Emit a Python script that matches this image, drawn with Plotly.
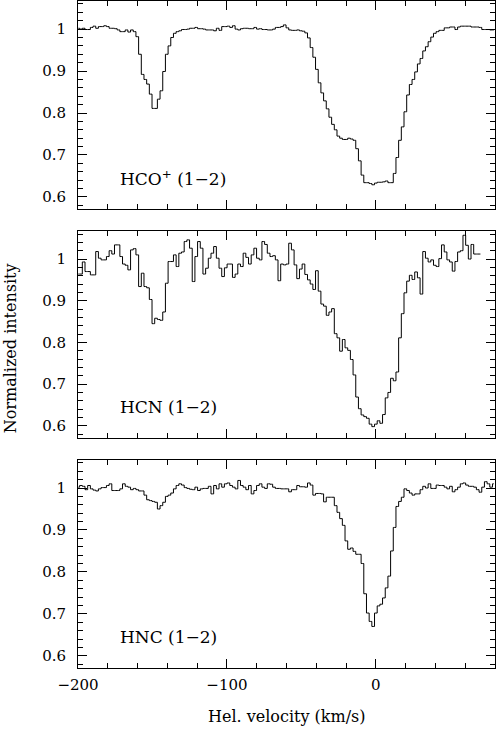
import numpy as np
import plotly.graph_objects as go
from plotly.subplots import make_subplots

# channel centres, 1.8 km/s spacing
velocity = np.round(-199.8 + 1.8 * np.arange(156), 1)

hco_plus = [
    1.002, 1.000, 1.002, 0.999, 0.999, 1.004, 1.007, 1.002, 1.006, 1.006,
    1.008, 1.006, 1.002, 1.002, 1.001, 0.998, 0.994, 0.994, 0.998, 0.993,
    0.998, 0.994, 0.982, 0.940, 0.892, 0.880, 0.869, 0.845, 0.811, 0.811,
    0.833, 0.853, 0.899, 0.940, 0.960, 0.980, 0.990, 0.994, 0.996, 0.999,
    0.999, 1.000, 1.002, 1.002, 1.004, 1.001, 1.001, 1.000, 0.998, 0.998,
    0.998, 0.996, 1.002, 0.997, 1.006, 1.006, 1.007, 1.004, 1.008, 1.000,
    0.998, 1.001, 1.002, 1.002, 1.001, 1.001, 1.004, 1.000, 1.001, 0.999,
    0.999, 0.998, 0.998, 1.000, 1.004, 1.004, 1.006, 1.010, 1.003, 0.998,
    0.997, 0.997, 0.998, 0.996, 0.995, 0.991, 0.979, 0.956, 0.933, 0.904,
    0.872, 0.848, 0.829, 0.810, 0.790, 0.773, 0.760, 0.745, 0.740, 0.737,
    0.737, 0.740, 0.738, 0.735, 0.715, 0.686, 0.652, 0.634, 0.634, 0.632,
    0.629, 0.633, 0.635, 0.635, 0.636, 0.638, 0.634, 0.634, 0.656, 0.694,
    0.735, 0.767, 0.803, 0.843, 0.868, 0.880, 0.898, 0.917, 0.930, 0.948,
    0.958, 0.970, 0.981, 0.990, 0.994, 0.997, 0.997, 1.003, 1.003, 1.005,
    1.005, 0.999, 1.005, 1.007, 1.007, 1.007, 1.007, 1.005, 1.005, 1.005,
    1.004, 0.999, 0.999, 0.999, 0.998, 0.998,
]

hcn = [
    0.964, 0.964, 0.993, 0.970, 0.970, 0.962, 0.962, 1.018, 1.002, 0.998,
    0.998, 1.006, 1.020, 1.012, 1.034, 1.034, 1.006, 0.988, 0.985, 0.974,
    1.022, 1.025, 1.010, 0.934, 0.966, 0.934, 0.931, 0.903, 0.845, 0.858,
    0.855, 0.853, 0.873, 0.942, 0.994, 0.994, 1.010, 0.982, 1.014, 1.017,
    1.042, 1.046, 1.026, 0.946, 1.006, 1.042, 1.026, 0.964, 0.978, 1.002,
    1.014, 1.030, 1.002, 0.978, 0.958, 0.979, 0.988, 0.988, 0.956, 0.964,
    0.988, 0.982, 1.014, 1.004, 0.988, 1.010, 1.026, 1.002, 0.998, 1.042,
    1.035, 1.014, 1.006, 1.008, 0.998, 0.948, 0.988, 0.986, 0.988, 1.038,
    1.022, 0.986, 0.953, 0.976, 0.988, 0.963, 0.950, 0.940, 0.927, 0.972,
    0.923, 0.892, 0.887, 0.865, 0.873, 0.881, 0.821, 0.811, 0.779, 0.807,
    0.787, 0.781, 0.759, 0.722, 0.669, 0.641, 0.626, 0.622, 0.618, 0.604,
    0.598, 0.604, 0.612, 0.606, 0.627, 0.667, 0.680, 0.714, 0.708, 0.729,
    0.811, 0.869, 0.919, 0.947, 0.961, 0.951, 0.969, 0.955, 0.916, 1.018,
    1.002, 0.993, 0.998, 0.985, 0.982, 1.001, 1.034, 1.017, 0.998, 0.993,
    0.971, 0.994, 1.017, 1.020, 1.057, 1.033, 1.000, 1.035, 1.012, 1.012,
    1.012,
]

hnc = [
    1.002, 1.006, 1.004, 0.996, 1.006, 0.998, 0.995, 0.993, 0.998, 1.001,
    1.001, 1.006, 1.010, 0.994, 0.994, 0.994, 0.998, 1.010, 1.004, 1.002,
    0.996, 0.999, 0.996, 0.993, 0.993, 0.983, 0.972, 0.970, 0.968, 0.966,
    0.950, 0.958, 0.966, 0.980, 0.983, 0.988, 0.998, 1.006, 1.010, 1.007,
    1.001, 0.999, 0.997, 0.996, 1.002, 0.994, 0.998, 0.999, 0.999, 1.004,
    0.986, 1.006, 0.998, 1.010, 1.002, 1.010, 1.012, 1.006, 1.002, 0.998,
    1.018, 1.006, 1.002, 0.996, 1.006, 0.986, 0.994, 1.006, 1.010, 1.002,
    0.999, 1.010, 1.009, 1.002, 0.999, 0.999, 0.998, 0.998, 0.998, 0.991,
    0.996, 0.996, 1.006, 1.003, 1.003, 1.002, 1.012, 1.007, 0.983, 0.987,
    0.987, 0.986, 0.967, 0.978, 0.978, 0.978, 0.958, 0.942, 0.927, 0.911,
    0.874, 0.854, 0.857, 0.849, 0.842, 0.842, 0.820, 0.748, 0.702, 0.682,
    0.670, 0.702, 0.719, 0.723, 0.738, 0.762, 0.790, 0.850, 0.906, 0.956,
    0.968, 0.978, 0.998, 0.994, 0.988, 0.983, 0.986, 0.986, 0.996, 1.004,
    1.000, 1.010, 0.999, 0.999, 1.007, 1.006, 1.006, 1.002, 0.998, 1.004,
    0.991, 0.996, 1.002, 1.010, 1.012, 1.007, 1.004, 1.004, 1.002, 0.996,
    0.990, 1.002, 1.015, 1.010, 1.002, 1.010,
]

spectra = [hco_plus, hcn, hnc]
labels = ["HCO<sup>+</sup> (1\u22122)", "HCN (1\u22122)", "HNC (1\u22122)"]

FONT = "DejaVu Serif"

fig = make_subplots(rows=3, cols=1, shared_xaxes=True)

for i, (vals, label) in enumerate(zip(spectra, labels), start=1):
    fig.add_trace(go.Scatter(x=velocity[:len(vals)], y=vals, mode="lines",
                             line=dict(shape="hvh", color="black", width=1),
                             showlegend=False, hoverinfo="skip"),
                  row=i, col=1)
    sfx = "" if i == 1 else str(i)
    fig.add_annotation(text=label, x=-173, y=0.645, xref="x" + sfx, yref="y" + sfx,
                       xanchor="left", yanchor="middle", showarrow=False,
                       font=dict(family=FONT, size=17, color="black"))

axis_common = dict(ticks="inside", ticklen=9, tickwidth=1, tickcolor="black",
                   showline=True, linecolor="black", linewidth=1, mirror="allticks",
                   showgrid=False, zeroline=False, automargin=False,
                   tickfont=dict(family=FONT, size=15, color="black"))

fig.update_xaxes(range=[-200, 80], tick0=0, dtick=100, ticklabelstandoff=3,
                 minor=dict(dtick=20, tick0=0, ticks="inside", ticklen=5, tickcolor="black"),
                 **axis_common)
fig.update_yaxes(range=[0.571, 1.067], tick0=0.6, dtick=0.1, ticklabelstandoff=8,
                 minor=dict(dtick=0.02, tick0=0.6, ticks="inside", ticklen=5, tickcolor="black"),
                 **axis_common)

fig.update_layout(
    width=496, height=729,
    margin=dict(l=78, r=1, t=1, b=61),
    paper_bgcolor="white", plot_bgcolor="white",
    yaxis=dict(domain=[0.688, 1.0]),
    yaxis2=dict(domain=[0.345, 0.655]),
    yaxis3=dict(domain=[0.0, 0.312]),
)

fig.add_annotation(text="Normalized intensity", textangle=-90, x=-0.162, y=0.48,
                   xref="paper", yref="paper", xanchor="center", yanchor="middle",
                   showarrow=False, font=dict(family=FONT, size=16, color="black"))
fig.add_annotation(text="Hel. velocity (km/s)", x=0.5, y=-0.072,
                   xref="paper", yref="paper", xanchor="center", yanchor="middle",
                   showarrow=False, font=dict(family=FONT, size=16, color="black"))

# drop the browser's default page margin so the figure sits at (0, 0)
fig.write_html("out.html", config={"displayModeBar": False},
               post_script="document.body.style.margin='0';document.body.style.overflow='hidden';")
